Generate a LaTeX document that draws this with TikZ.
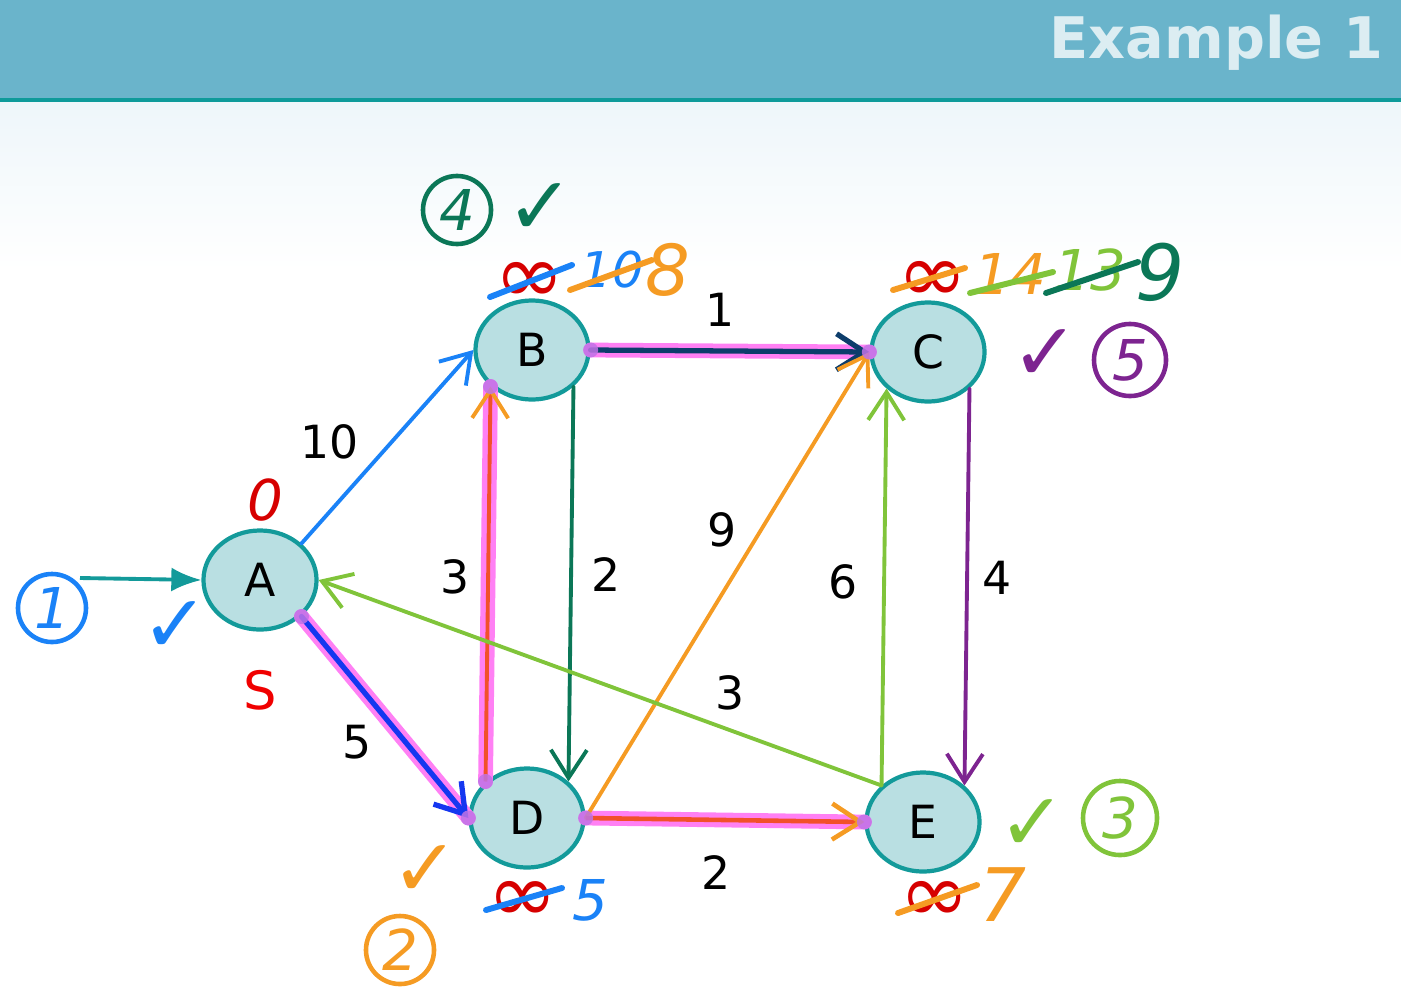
\documentclass[tikz,border=0pt]{standalone}
\usepackage{fontspec}
\setmainfont{DejaVu Sans}
\usetikzlibrary{arrows.meta,shapes.geometric}

\definecolor{headbg}{HTML}{6AB4CB}
\definecolor{headline}{HTML}{0E9A9A}
\definecolor{titletxt}{HTML}{DCEDF2}
\definecolor{bgtint}{HTML}{EEF6FA}
\definecolor{nodefill}{HTML}{B9DFE2}
\definecolor{nodeedge}{HTML}{139A9A}
\definecolor{penblue}{HTML}{1A82F7}
\definecolor{deepblue}{HTML}{1537F0}
\definecolor{hl}{HTML}{FF80F4}
\definecolor{dotp}{HTML}{C073E6}
\definecolor{navy}{HTML}{0D3D6B}
\definecolor{dgreen}{HTML}{0B7757}
\definecolor{orng}{HTML}{F59B23}
\definecolor{redor}{HTML}{F2502A}
\definecolor{lgreen}{HTML}{80C43A}
\definecolor{purp}{HTML}{7D2490}
\definecolor{infred}{HTML}{D60000}
\definecolor{sred}{HTML}{F00000}

\begin{document}
\begin{tikzpicture}[x=0.01cm,y=-0.01cm,
    vertex/.style={ellipse,draw=nodeedge,fill=nodefill,line width=1.2pt,
      minimum width=1.13cm,minimum height=0.99cm,inner sep=0pt,font=\fontsize{13}{13}\selectfont},
    wt/.style={font=\fontsize{13}{13}\selectfont},
    pen/.style={line width=1.1pt,line cap=round,-{Straight Barb[length=2.8mm,width=3.6mm]}},
    hilite/.style={line width=4.2pt,draw=hl,line cap=round},
    hw/.style={font=\fontsize{#1}{#1}\selectfont\itshape,inner sep=1pt},
    infty/.style={font=\fontsize{24}{24}\selectfont,text=infred,inner sep=0pt,
      text height=0.45cm,text depth=0pt},
    strike/.style={line width=1.7pt,line cap=round},
    ring/.style={circle,draw,line width=1.3pt,minimum size=0.68cm,inner sep=0pt,
      font=\fontsize{16}{16}\selectfont\itshape},
    tick/.style={font=\fontsize{23}{23}\selectfont,inner sep=0pt,
      text height=0.6cm,text depth=0pt}]
\useasboundingbox (0,0) rectangle (1401,1000);

% header
\shade[top color=bgtint,bottom color=white] (0,100) rectangle (1401,270);
\fill[headbg] (0,0) rectangle (1401,100);
\draw[headline,line width=1pt] (0,100) -- (1401,100);
\node[anchor=east,text=titletxt,font=\fontsize{16.3}{16.3}\selectfont\bfseries] (title) at (1396,43) {Example 1};

% vertices
\node[vertex] (A) at (260,580) {A};
\node[vertex] (B) at (532,350) {B};
\node[vertex] (C) at (928,352) {C};
\node[vertex] (D) at (527,818) {D};
\node[vertex] (E) at (923,822) {E};
\coordinate (start) at (80,578);

% highlighted path
\draw[hilite] (A.south east) -- (D.west);
\draw[hilite] (B.east) -- (C.west);
\draw[hilite] (D.north west) -- (B.south west);
\draw[hilite] (D.east) -- (E.west);

% edges
\draw[nodeedge,line width=1.1pt,-{Latex[length=3mm,width=2.4mm]}] (start) -- (A.west);
\draw[pen,penblue] (A.north east) -- (B.west);
\draw[pen,deepblue,line width=1.5pt] (A.south east) -- (D.west);
\draw[pen,navy,line width=1.5pt] (B.east) -- (C.west);
\draw[pen,dgreen] (B.south east) -- (D.north east);
\draw[line width=1.1pt,redor,-{Straight Barb[length=2.8mm,width=3.6mm,color=orng]}] (D.north west) -- (B.south west);
\draw[pen,orng] (D.east) -- (C.west);
\draw[pen,lgreen] (E.north west) -- (C.south west);
\draw[pen,purp] (C.south east) -- (E.north east);
\draw[pen,lgreen] (E.north west) -- (A.east);
\draw[line width=1.3pt,redor,-{Straight Barb[length=2.8mm,width=3.6mm,color=orng]}] (D.east) -- (E.west);

% end dots of the highlight
\foreach \p in {A.south east,D.west,B.east,C.west,D.north west,B.south west,D.east,E.west}
  \fill[dotp,opacity=0.85] (\p) circle (0.075cm);

% weights
\node[wt] (wAB) at (330,442) {10};
\node[wt] (wAD) at (357,742) {5};
\node[wt] (wBC) at (720,310) {1};
\node[wt] (wDB) at (455,577) {3};
\node[wt] (wBD) at (606,575) {2};
\node[wt] (wDC) at (722,530) {9};
\node[wt] (wEC) at (843,582) {6};
\node[wt] (wCE) at (997,578) {4};
\node[wt] (wEA) at (730,693) {3};
\node[wt] (wDE) at (716,873) {2};

% source
\node[text=sred,font=\fontsize{15}{15}\selectfont] (src) at (260,690) {S};
\node[hw=16,text=infred] (dA) at (265,500) {0};
\node[ring,draw=penblue,text=penblue] (o1) at (52,608) {1};
\node[tick,text=penblue] (t1) at (175,622) {✓};

% labels of B
\node[ring,draw=dgreen,text=dgreen] (o4) at (457,210) {4};
\node[tick,text=dgreen] (t4) at (540,204) {✓};
\node[infty] (bInf) at (530,281) {∞};
\draw[strike,penblue] ([shift={(-40,16)}]bInf.center) -- ([shift={(42,-16)}]bInf.center);
\node[hw=14,text=penblue] (b10) at (612,270) {10};
\draw[strike,orng] ([shift={(-42,20)}]b10.center) -- ([shift={(40,-10)}]b10.center);
\node[hw=20,text=orng] (b8) at (668,270) {8};

% labels of C
\node[infty] (cInf) at (933,280) {∞};
\draw[strike,orng] ([shift={(-40,10)}]cInf.center) -- ([shift={(32,-12)}]cInf.center);
\node[hw=16,text=orng] (c14) at (1010,274) {14};
\draw[strike,lgreen] ([shift={(-40,19)}]c14.center) -- ([shift={(43,-2)}]c14.center);
\node[hw=16,text=lgreen] (c13) at (1090,270) {13};
\draw[strike,dgreen] ([shift={(-44,23)}]c13.center) -- ([shift={(48,-8)}]c13.center);
\node[hw=22,text=dgreen] (c9) at (1160,272) {9};
\node[tick,text=purp] (t5) at (1045,350) {✓};
\node[ring,draw=purp,text=purp,minimum size=0.72cm] (o5) at (1130,360) {5};

% labels of D
\node[infty] (dInf) at (523,900) {∞};
\draw[strike,penblue] ([shift={(-37,10)}]dInf.center) -- ([shift={(39,-12)}]dInf.center);
\node[hw=16,text=penblue] (d5) at (590,900) {5};
\node[tick,text=orng] (t2) at (425,866) {✓};
\node[ring,draw=orng,text=orng] (o2) at (400,950) {2};

% labels of E
\node[infty] (eInf) at (935,900) {∞};
\draw[strike,orng] ([shift={(-37,13)}]eInf.center) -- ([shift={(42,-15)}]eInf.center);
\node[hw=21,text=orng] (e7) at (1003,895) {7};
\node[tick,text=lgreen] (t3) at (1032,820) {✓};
\node[ring,draw=lgreen,text=lgreen,minimum size=0.74cm] (o3) at (1120,818) {3};
\end{tikzpicture}
\end{document}
